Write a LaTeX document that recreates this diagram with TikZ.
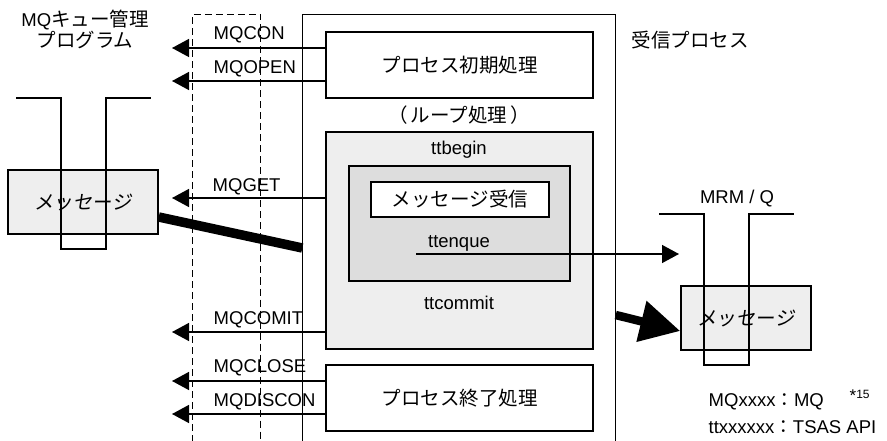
\documentclass[tikz,border=0pt]{standalone}
\usepackage{fontspec}
\setmainfont{Liberation Sans}
\newfontfamily\jp{Noto Sans CJK JP}
\newfontfamily\jpsl[FakeSlant=0.15]{Noto Sans CJK JP}
\usetikzlibrary{arrows.meta}

\definecolor{lightfill}{HTML}{EEEEEE}
\definecolor{midfill}{HTML}{DDDDDD}

\begin{document}
\begin{tikzpicture}[x=1pt,y=-1pt,
  line width=1.4pt,
  txt/.style={inner sep=0pt, font=\fontsize{18.5}{22}\selectfont},
  jtxt/.style={inner sep=0pt, font=\fontsize{19.5}{22}\selectfont\jp},
  box/.style={draw, line width=1.5pt, inner sep=0pt},
  callarr/.style={-{Triangle[length=17pt,width=18pt]}},
  bigarr/.style={line width=8.5pt, -{Triangle[length=40pt,width=40pt]}},
  flowline/.style={line width=9.5pt},
  tank/.style={line width=1.5pt}
]
\useasboundingbox (0,0) rectangle (887,441);

% --- receiving process frame (open at the bottom) ---
\node[minimum width=312pt, minimum height=426pt, inner sep=0pt] (proc) at (459,228) {};
\draw[line width=1.5pt] (proc.south west) -- (proc.north west) -- (proc.north east) -- (proc.south east);

% --- dashed interface column ---
\node[minimum width=67pt, minimum height=426pt, inner sep=0pt] (api) at (226.5,228) {};
\draw[line width=1.5pt, dash pattern=on 7pt off 4pt] (api.south west) -- (api.north west) -- (api.north east) -- (api.south east);

% --- process steps ---
\node[box, minimum width=267pt, minimum height=66pt] (init) at (459.5,65) {};
\node[jtxt] (initT) at (init.center) {プロセス初期処理};
\node[jtxt] (loopT) at (459,115) {（\hspace{3pt}ループ処理\hspace{3pt}）};

\node[box, fill=lightfill, minimum width=267pt, minimum height=217pt] (loop) at (459.5,240.5) {};
\node[txt] (ttbegin) at (459,150) {ttbegin};
\node[box, fill=midfill, minimum width=221pt, minimum height=115pt] (inner) at (459.5,223.5) {};
\node[box, fill=white, minimum width=178pt, minimum height=35pt] (recv) at (460,199.5) {};
\node[jtxt] (recvT) at (recv.center) {メッセージ受信};
\node[txt] (ttenque) at (459,243) {ttenque};
\node[txt] (ttcommit) at (459,303) {ttcommit};

\node[box, minimum width=267pt, minimum height=66pt] (fin) at (459.5,398) {};
\node[jtxt] (finT) at (fin.center) {プロセス終了処理};

% --- captions ---
\node[jtxt] (mq1) at (85,20) {\fontspec{Liberation Sans}\fontsize{18.5}{22}\selectfont MQ\jp\fontsize{19.5}{22}\selectfont キュー管理};
\node[jtxt] (mq2) at (85,40) {プログラム};
\node[jtxt] (recvproc) at (690,40) {受信プロセス};

% --- left queue with its message ---
\node[box, fill=lightfill, minimum width=150pt, minimum height=64pt] (msgL) at (83,202) {};
\draw[tank] (16,98) -- (61,98) -- (61,249) -- (106,249) -- (106,98) -- (151,98);
\node[inner sep=0pt, font=\fontsize{19.5}{22}\selectfont\jpsl] (msgLT) at (msgL.center) {メッセージ};

% --- right queue (MRM/Q) with its message ---
\node[txt] (mrmq) at (737,199) {MRM / Q};
\node[box, fill=lightfill, minimum width=130pt, minimum height=64pt] (msgR) at (746,318) {};
\draw[tank] (659,214) -- (704,214) -- (704,365) -- (749,365) -- (749,214) -- (794,214);
\node[inner sep=0pt, font=\fontsize{19.5}{22}\selectfont\jpsl] (msgRT) at (msgR.center) {メッセージ};

% --- MQ calls ---
\coordinate (conL) at (172,48);
\coordinate (openL) at (172,81);
\coordinate (getL) at (172,198);
\coordinate (comitL) at (172,332);
\coordinate (closeL) at (172,381);
\coordinate (disconL) at (172,414);

\draw[callarr] (init.west |- conL) -- (conL);
\draw[callarr] (init.west |- openL) -- (openL);
\draw[callarr] (loop.west |- getL) -- (getL);
\draw[callarr] (loop.west |- comitL) -- (comitL);
\draw[callarr] (fin.west |- closeL) -- (closeL);
\draw[callarr] (fin.west |- disconL) -- (disconL);

\node[txt, anchor=west] (mqcon) at (213,35) {MQCON};
\node[txt, anchor=west] (mqopen) at (213,69) {MQOPEN};
\node[txt, anchor=west] (mqget) at (212,187) {MQGET};
\node[txt, anchor=west] (mqcomit) at (213,320) {MQCOMIT};
\node[txt, anchor=west] (mqclose) at (213,368) {MQCLOSE};
\node[txt, anchor=west] (mqdiscon) at (213,402) {MQDISCON};

% --- enqueue to MRM/Q ---
\coordinate (enqS) at (416,254);
\coordinate (enqE) at (679,254);
\draw[callarr] (enqS) -- (enqE);

% --- message flow ---
\draw[flowline] ([yshift=-15pt]msgL.east) -- ([yshift=-20pt]proc.west);
\draw[bigarr] ([yshift=-87pt]proc.east) -- ([yshift=-13pt]msgR.west);

% --- legend ---
\node[txt, anchor=west] (leg1) at (708,402) {MQxxxx{\jp ：}MQ};
\node[txt, anchor=west] (leg2) at (708,427) {ttxxxxxx{\jp ：}TSAS API};
\node[inner sep=0pt, anchor=west, font=\fontsize{12}{14}\selectfont] (note) at (849,396) {{\fontsize{17}{17}\selectfont\raisebox{-3pt}{*}}15};
\end{tikzpicture}
\end{document}
